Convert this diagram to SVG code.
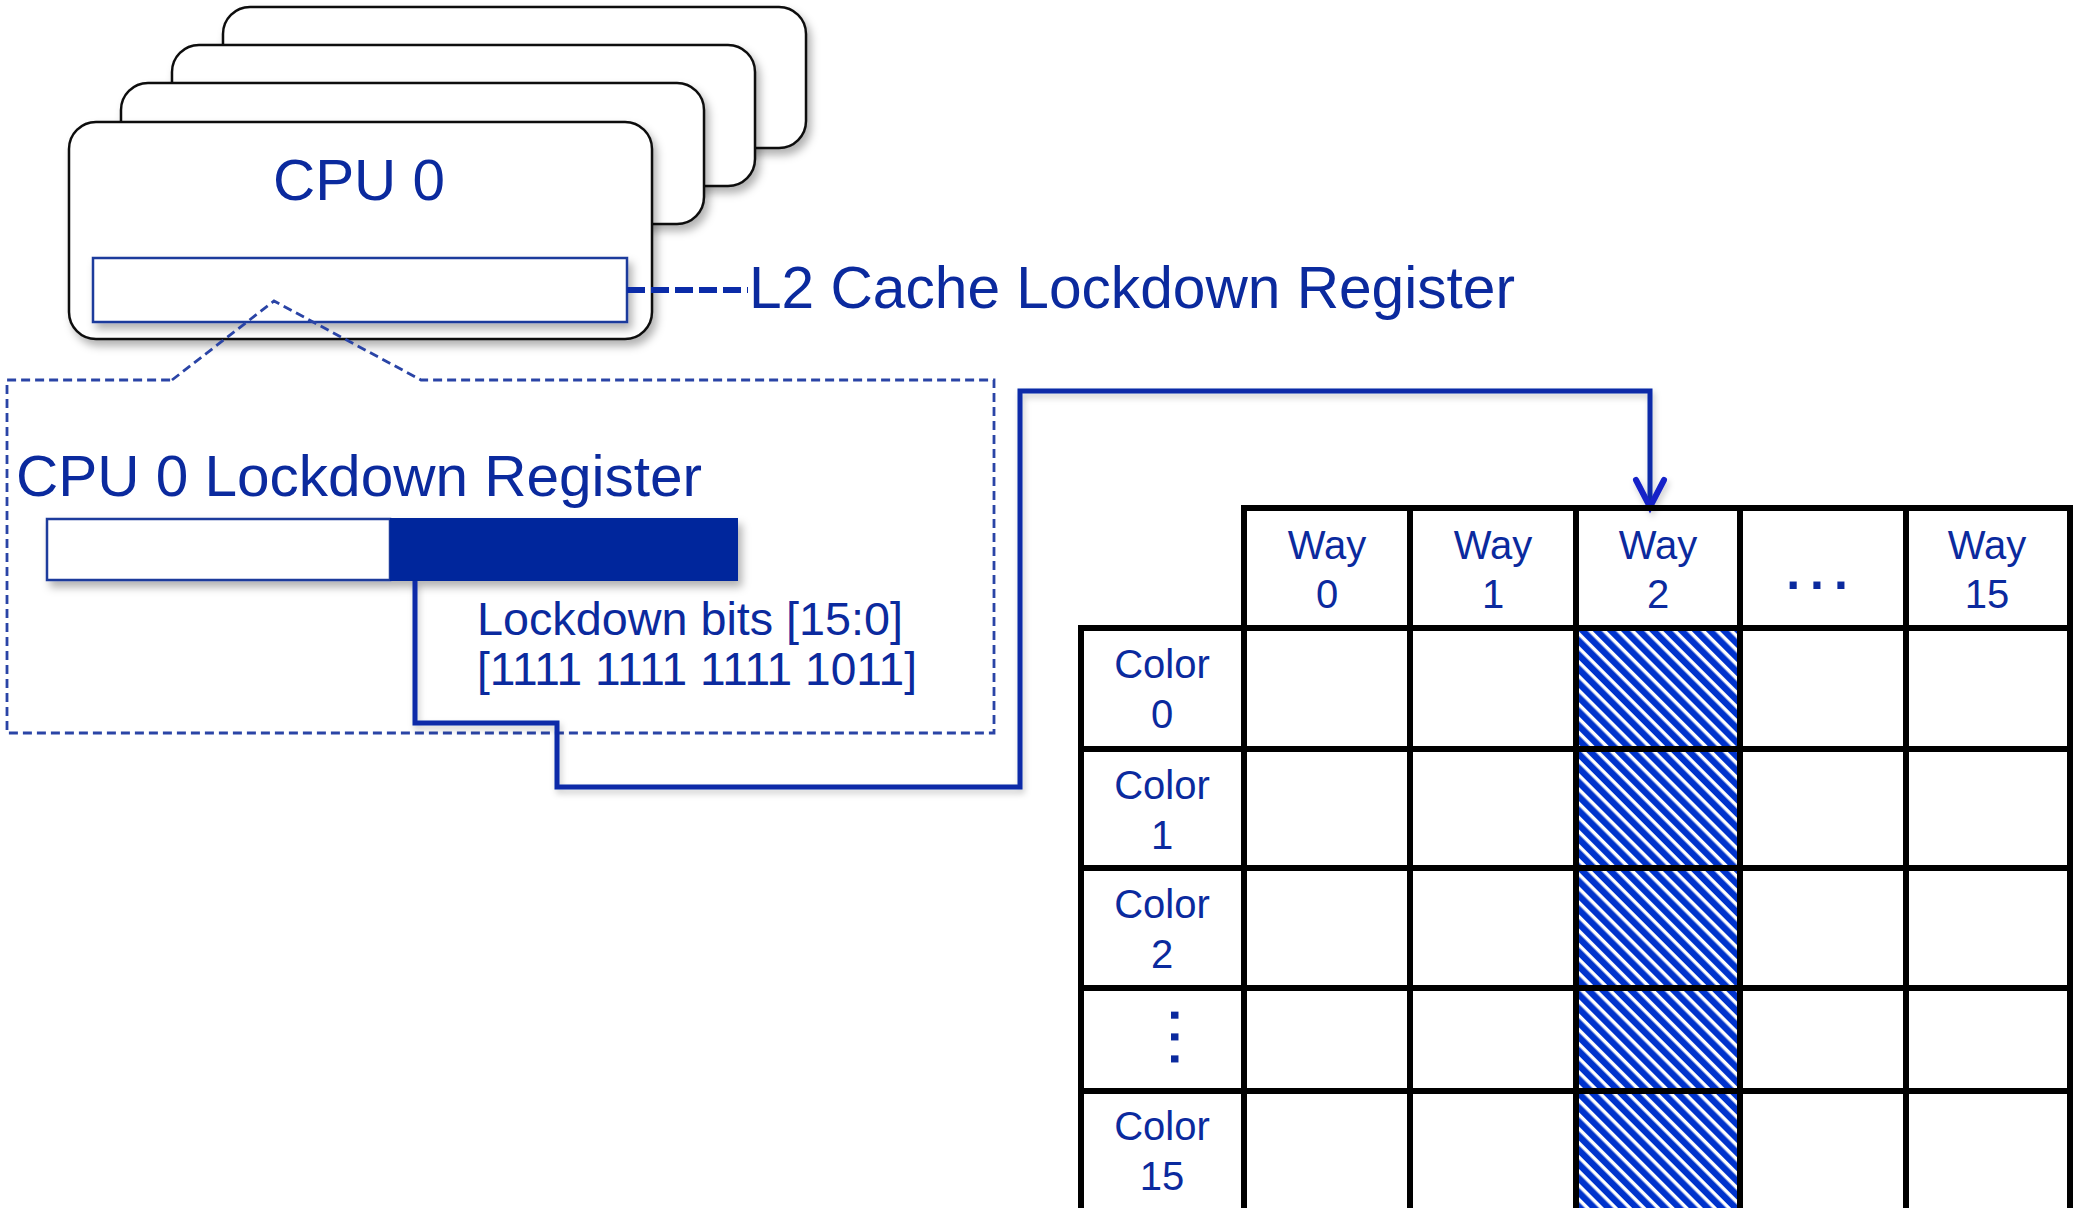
<svg xmlns="http://www.w3.org/2000/svg" width="2078" height="1208" viewBox="0 0 2078 1208">
<defs>
<style>
.t{font-family:"Liberation Sans",Arial,sans-serif;fill:#0b2a9e}
.cpu{fill:#fff;stroke:#111;stroke-width:2.5}
.grid{stroke:#000;stroke-width:6;fill:none}
.call{fill:none;stroke:#2a44a6;stroke-width:2.8;stroke-dasharray:9 5}
.conn{fill:none;stroke:#0a2ba8;stroke-width:5}
</style>
<filter id="sh" x="-10%" y="-10%" width="130%" height="140%">
<feDropShadow dx="4" dy="6" stdDeviation="4" flood-color="#000" flood-opacity="0.3"/>
</filter>
<filter id="sh2" x="-5%" y="-5%" width="110%" height="115%">
<feDropShadow dx="2" dy="4" stdDeviation="3" flood-color="#000" flood-opacity="0.2"/>
</filter>
<pattern id="hatch" width="10" height="10" patternUnits="userSpaceOnUse" patternTransform="rotate(45)">
<rect width="10" height="10" fill="#0033cc"/>
<rect y="0" width="10" height="3.5" fill="#fff"/>
</pattern>
<marker id="arr" markerWidth="40" markerHeight="40" viewBox="0 0 40 40" refX="20" refY="34" orient="0" markerUnits="userSpaceOnUse">
<path d="M6,6 L20,33 L34,6" fill="none" stroke="#1424c8" stroke-width="6" stroke-linejoin="miter" stroke-linecap="round"/>
</marker>
</defs>

<g id="cpu3"><rect class="cpu" x="223" y="7" width="583" height="141" rx="27" filter="url(#sh)"/></g>
<g id="cpu2"><rect class="cpu" x="172" y="45" width="583" height="141" rx="27" filter="url(#sh)"/></g>
<g id="cpu1"><rect class="cpu" x="121" y="83" width="583" height="141" rx="27" filter="url(#sh)"/></g>
<g id="cpu0">
<rect class="cpu" x="69" y="122" width="583" height="217" rx="27" filter="url(#sh)"/>
<text class="t" x="359" y="200" font-size="58" text-anchor="middle" textLength="172" lengthAdjust="spacingAndGlyphs">CPU 0</text>
<rect x="93" y="258" width="534" height="64" fill="#fff" stroke="#1d3b9c" stroke-width="2.5" filter="url(#sh)"/>
</g>

<g id="l2label">
<text class="t" x="749" y="308" font-size="59" textLength="766" lengthAdjust="spacingAndGlyphs">L2 Cache Lockdown Register</text>
</g>

<g id="callout">
<path class="call" d="M172,380 L274,301 L421,380 H994 V733 H7 V380 H172"/>
<text class="t" x="16" y="496" font-size="58" textLength="686" lengthAdjust="spacingAndGlyphs">CPU 0 Lockdown Register</text>
<g filter="url(#sh)">
<rect x="47" y="519" width="343" height="61" fill="#fff" stroke="#1d3b9c" stroke-width="2.5"/>
<rect x="390" y="518" width="348" height="63" fill="#00279c"/>
</g>
<text class="t" x="477" y="635" font-size="46" textLength="426" lengthAdjust="spacingAndGlyphs">Lockdown bits [15:0]</text>
<text class="t" x="477" y="685" font-size="46" textLength="440" lengthAdjust="spacingAndGlyphs">[1111 1111 1111 1011]</text>
</g>

<g id="connectors">
<path class="conn" d="M415,581 V723 H557 V787 H1020 V391 H1650 V508" marker-end="url(#arr)" filter="url(#sh2)"/>
<path d="M627,290 H748" fill="none" stroke="#0a2ba8" stroke-width="6" stroke-dasharray="18 6"/>
</g>

<g id="cache-table">
<rect x="1576" y="628" width="164" height="590" fill="url(#hatch)"/>
<path class="grid" d="M1241,508 H2073 M1078,628 H2073 M1078,749 H2073 M1078,868 H2073 M1078,988 H2073 M1078,1091 H2073"/>
<path class="grid" d="M1081,625 V1215 M1244,505 V1215 M1410,505 V1215 M1576,505 V1215 M1740,505 V1215 M1906,505 V1215 M2070,505 V1215"/>
<g class="t" font-size="40" text-anchor="middle">
<text x="1327" y="559">Way</text><text x="1327" y="608">0</text>
<text x="1493" y="559">Way</text><text x="1493" y="608">1</text>
<text x="1658" y="559">Way</text><text x="1658" y="608">2</text>
<text x="1987" y="559">Way</text><text x="1987" y="608">15</text>
<text x="1162" y="678">Color</text><text x="1162" y="728">0</text>
<text x="1162" y="799">Color</text><text x="1162" y="849">1</text>
<text x="1162" y="918">Color</text><text x="1162" y="968">2</text>
<text x="1162" y="1140">Color</text><text x="1162" y="1190">15</text>
</g>
<text class="t" x="1822" y="589" font-size="50" font-weight="bold" text-anchor="middle" letter-spacing="10">...</text>
<text class="t" x="1171" y="1041" font-size="50" font-weight="bold" text-anchor="middle" letter-spacing="8" transform="rotate(90 1171 1041)">...</text>
</g>
</svg>
